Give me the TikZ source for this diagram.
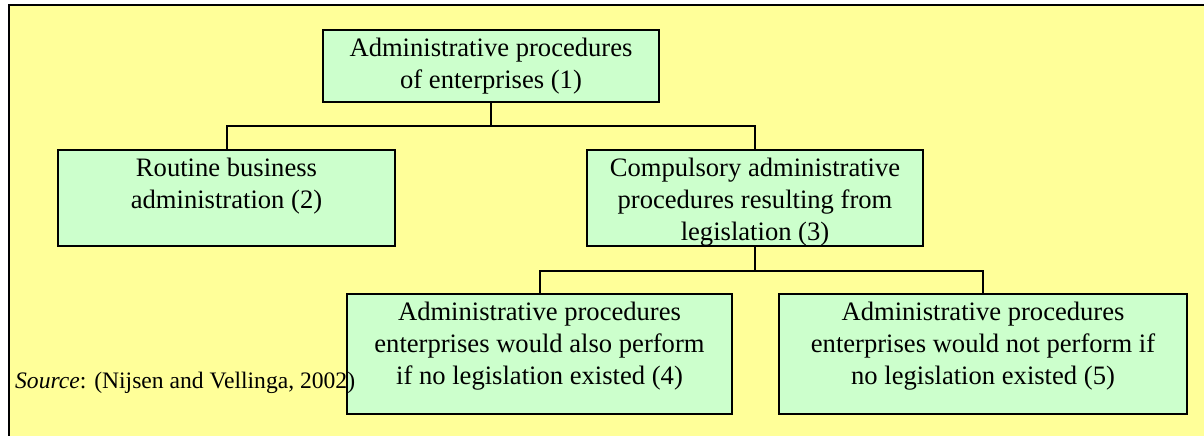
\documentclass[tikz,border=0pt]{standalone}
\usepackage{fontspec}
\setmainfont{Liberation Serif}
\usetikzlibrary{shadows}
\definecolor{paperyellow}{RGB}{255,255,153}
\definecolor{boxgreen}{RGB}{204,255,204}
% top-aligned, centred text block of given width and height
\newcommand\boxlines[3]{\parbox[t][#2][t]{#1}{\centering\rule{0pt}{26.5pt}#3\par}}
\begin{document}
\begin{tikzpicture}[x=1pt,y=-1pt,
  box/.style={draw=black, line width=2.4pt, fill=boxgreen, inner sep=0pt,
    outer sep=0pt, anchor=north west, font=\fontsize{26.6}{32}\selectfont,
    drop shadow={shadow xshift=1.3pt, shadow yshift=-1.3pt, fill=black!40, opacity=1}},
  conn/.style={draw=black, line width=2pt},
  frame/.style={draw=black, line width=2pt}]
  \useasboundingbox (0,0) rectangle (1204,436);
  % page background and panel
  \fill[white] (0,0) rectangle (1204,436);
  \fill[paperyellow] (9,5) rectangle (1204,436);
  \draw[frame] (9,436) -- (9,5) -- (1204,5);

  % hierarchy boxes
  \node[box] (admin) at (323,30)
    {\boxlines{336pt}{72pt}{Administrative procedures\\of enterprises (1)}};
  \node[box] (routine) at (58,150)
    {\boxlines{337pt}{96pt}{Routine business\\administration (2)}};
  \node[box] (compulsory) at (587,150)
    {\boxlines{336pt}{96pt}{Compulsory administrative\\procedures resulting from\\legislation (3)}};
  \node[box] (also) at (347,294)
    {\boxlines{385pt}{120pt}{Administrative procedures\\enterprises would also perform\\if no legislation existed (4)}};
  \node[box] (notperf) at (779,294)
    {\boxlines{408pt}{120pt}{Administrative procedures\\enterprises would not perform if\\no legislation existed (5)}};

  % tree connectors
  \coordinate (split1) at (admin.south |- 0,126);
  \coordinate (split2) at (compulsory.south |- 0,271);
  \draw[conn] (admin.south) -- (split1);
  \draw[conn] (split1) -| (routine.north);
  \draw[conn] (split1) -| (compulsory.north);
  \draw[conn] (compulsory.south) -- (split2);
  \draw[conn] (split2) -| (also.north);
  \draw[conn] (split2) -| (notperf.north);

  % source line
  \node[anchor=base west, inner sep=0pt, font=\fontsize{23.6}{28}\selectfont]
    (source) at (15,388) {\textit{Source}: (Nijsen and Vellinga, 2002)};
\end{tikzpicture}
\end{document}
